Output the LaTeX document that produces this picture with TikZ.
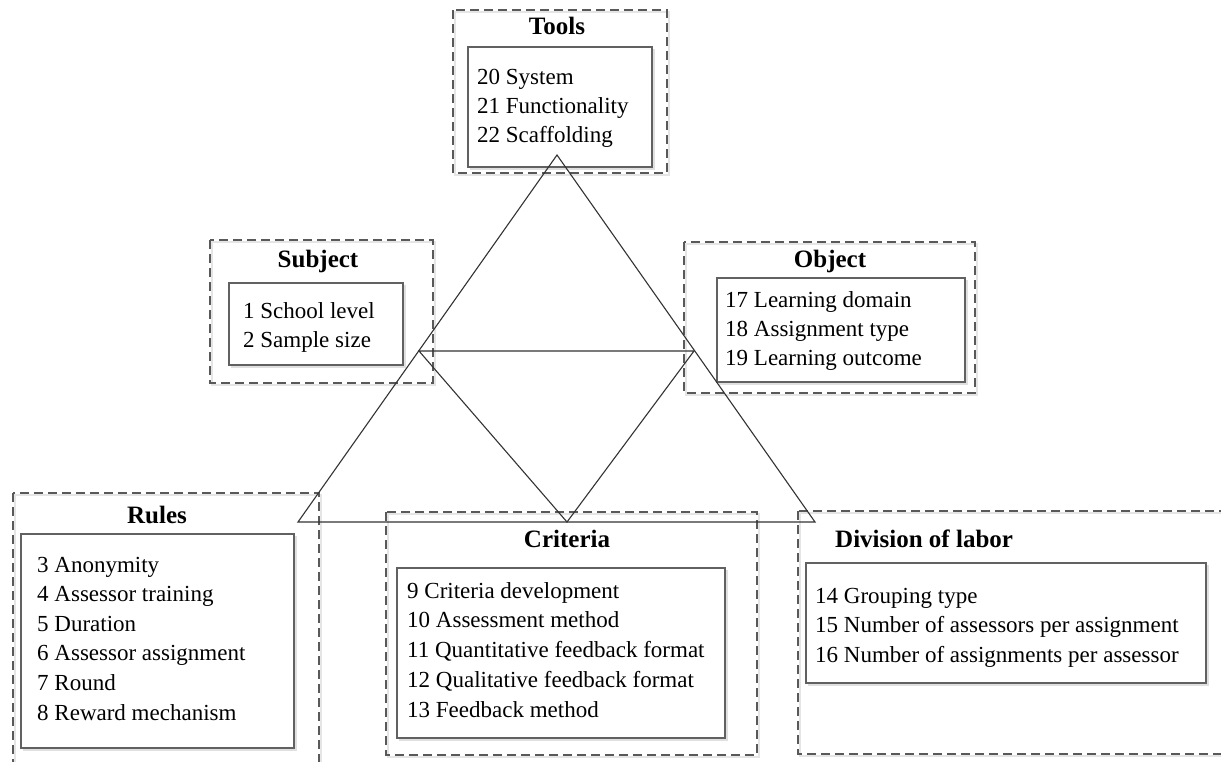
\documentclass[tikz,border=0pt]{standalone}
\usepackage{fontspec}
\setmainfont{Liberation Serif}
\tikzset{
  dbox/.style={draw=black!65, line width=1.1pt, dash pattern=on 9pt off 5pt},
  dshadow/.style={draw=black!10, line width=2pt},
  ibox/.style={draw=black!62, line width=1.4pt, fill=white},
  ishadow/.style={fill=black!12, draw=none},
  tri/.style={draw=black!80, line width=1.1pt},
  item/.style={anchor=base west, inner sep=0pt, font=\fontsize{23}{29}\selectfont},
  ttl/.style={anchor=base, inner sep=0pt, font=\fontsize{25}{29}\selectfont\bfseries},
}
\begin{document}
\begin{tikzpicture}[x=1pt,y=-1pt]
\useasboundingbox (0,0) rectangle (1221,762);
\clip (0,0) rectangle (1221,762);
\fill[white] (0,0) rectangle (1221,762);

% ---------- Tools
\draw[dshadow] (455,12) rectangle (669,175);
\draw[dbox] (453,10) rectangle (667,173);
\fill[ishadow] (470,49) rectangle (655,170);
\draw[ibox] (468,47) rectangle (652,167);
\node[ttl] (tt) at (557,35) {Tools};
\node[item] (t1) at (477,85) {20 System};
\node[item] (t2) at (477,114) {21 Functionality};
\node[item] (t3) at (477,143) {22 Scaffolding};

% ---------- Subject
\draw[dshadow] (212,242) rectangle (435,385);
\draw[dbox] (210,240) rectangle (433,383);
\fill[ishadow] (231,285) rectangle (406,368);
\draw[ibox] (229,283) rectangle (403,365);
\node[ttl] (st) at (318,268) {Subject};
\node[item] (s1) at (243,318) {1 School level};
\node[item] (s2) at (243,347) {2 Sample size};

% ---------- Object
\draw[dshadow] (686,244) rectangle (977,395);
\draw[dbox] (684,242) rectangle (975,393);
\fill[ishadow] (719,280) rectangle (968,385);
\draw[ibox] (717,278) rectangle (965,382);
\node[ttl] (ot) at (830,268) {Object};
\node[item] (o1) at (725,307) {17 Learning domain};
\node[item] (o2) at (725,336) {18 Assignment type};
\node[item] (o3) at (725,365) {19 Learning outcome};

% ---------- Rules
\draw[dshadow] (15,495) rectangle (321,790);
\draw[dbox] (13,493) rectangle (319,790);
\fill[ishadow] (23,536) rectangle (297,751);
\draw[ibox] (21,534) rectangle (294,748);
\node[ttl] (rt) at (157,523) {Rules};
\node[item] (r1) at (37,572) {3 Anonymity};
\node[item] (r2) at (37,601.6) {4 Assessor training};
\node[item] (r3) at (37,631.2) {5 Duration};
\node[item] (r4) at (37,660.8) {6 Assessor assignment};
\node[item] (r5) at (37,690.4) {7 Round};
\node[item] (r6) at (37,720) {8 Reward mechanism};

% ---------- Criteria
\draw[dshadow] (388,514) rectangle (759,757);
\draw[dbox] (386,512) rectangle (757,755);
\fill[ishadow] (399,570) rectangle (728,741);
\draw[ibox] (397,568) rectangle (725,738);
\node[ttl] (ct) at (567,547) {Criteria};
\node[item] (c1) at (407,598) {9 Criteria development};
\node[item] (c2) at (407,627.75) {10 Assessment method};
\node[item] (c3) at (407,657.5) {11 Quantitative feedback format};
\node[item] (c4) at (407,687.25) {12 Qualitative feedback format};
\node[item] (c5) at (407,717) {13 Feedback method};

% ---------- Division of labor
\draw[dshadow] (800,513) rectangle (1260,756);
\draw[dbox] (798,511) rectangle (1260,754);
\fill[ishadow] (808,565) rectangle (1209,686);
\draw[ibox] (806,563) rectangle (1206,683);
\node[ttl, anchor=base west] (dt) at (835,547) {Division of labor};
\node[item] (d1) at (815,603) {14 Grouping type};
\node[item] (d2) at (815,632.5) {15 Number of assessors per assignment};
\node[item] (d3) at (815,662) {16 Number of assignments per assessor};

% ---------- Triangles
\coordinate (A)  at (557,155);
\coordinate (BL) at (298,522);
\coordinate (BR) at (815,522);
\coordinate (IL) at (419,351);
\coordinate (IR) at (694,351);
\coordinate (IB) at (567,522);
\draw[tri] (A) -- (BL) -- (BR) -- cycle;
\draw[tri] (IL) -- (IR) -- (IB) -- cycle;
\end{tikzpicture}
\end{document}
